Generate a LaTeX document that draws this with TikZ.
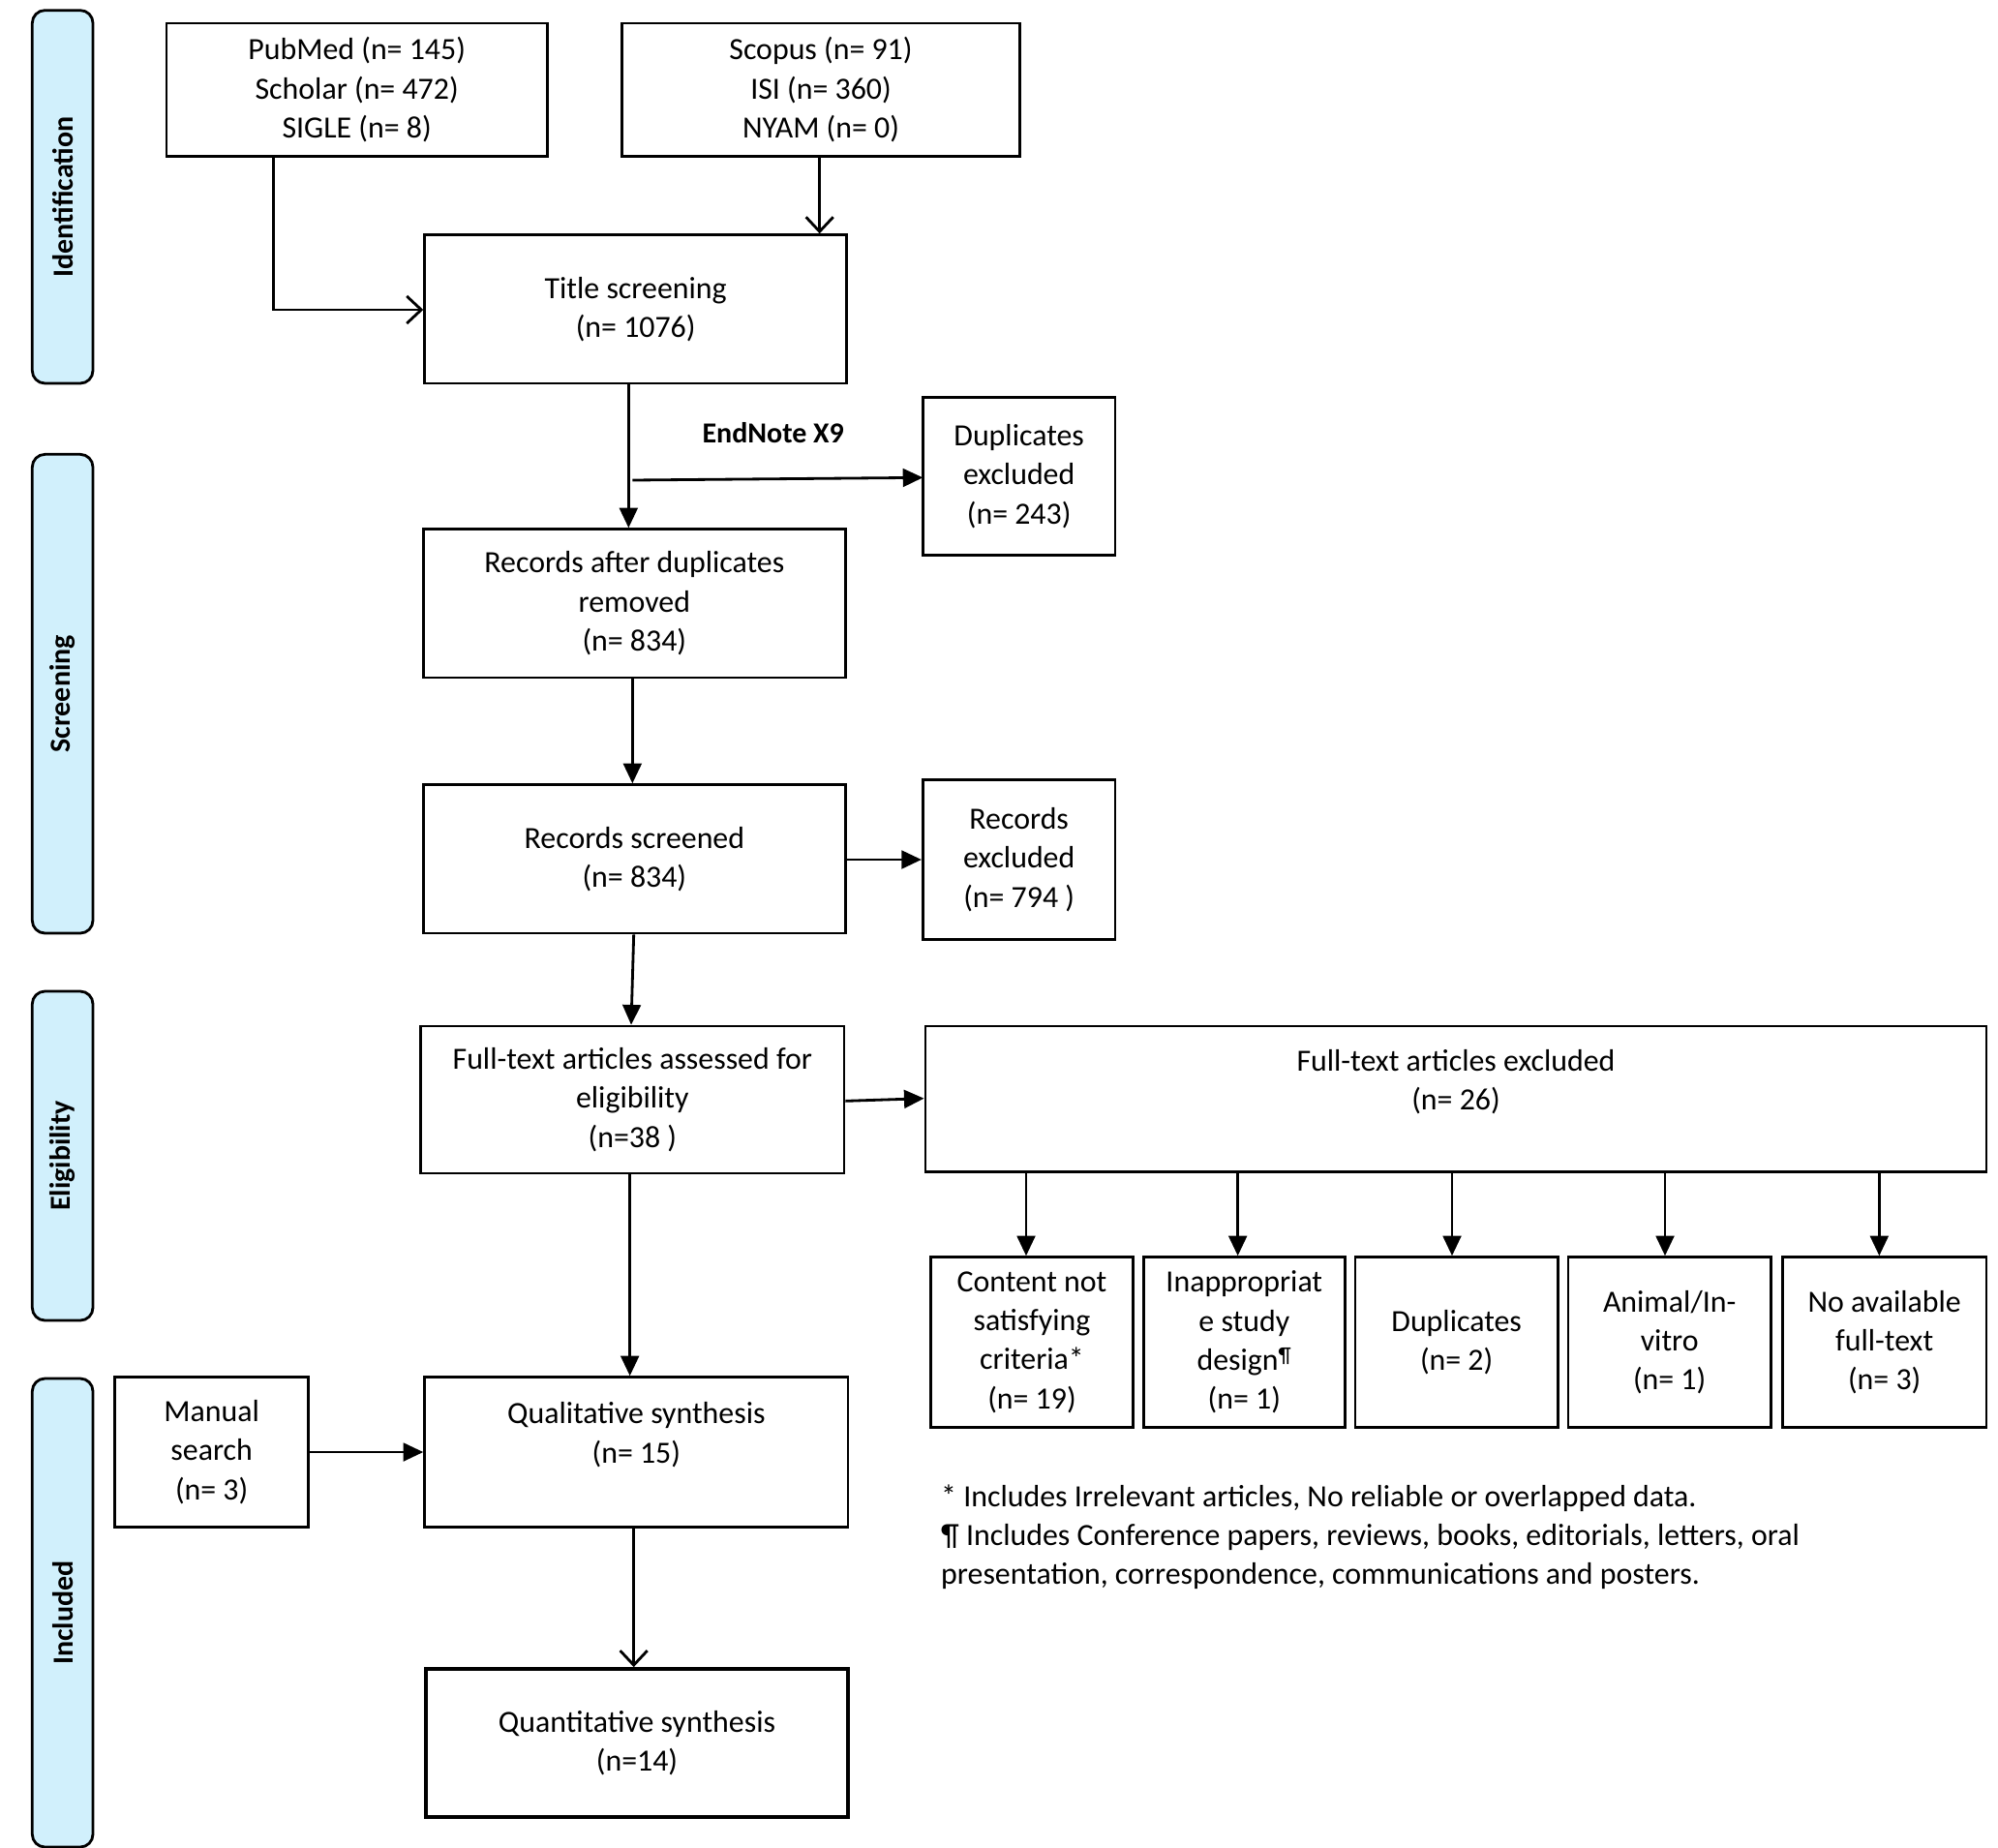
\documentclass[tikz,border=0pt]{standalone}
\usepackage{fontspec}
\setmainfont{Carlito}
\usetikzlibrary{arrows.meta,calc}
\begin{document}
\begin{tikzpicture}[x=0.05cm,y=-0.05cm,
  every node/.style={font=\fontsize{34}{43}\selectfont},
  box/.style={draw,line width=3pt,align=center,inner sep=0pt},
  lane/.style={draw,line width=3pt,rounded corners=14pt,fill=cyan!18,inner sep=0pt},
  lanetxt/.style={rotate=90,font=\fontsize{32}{38}\selectfont\bfseries},
  fa/.style={line width=3pt,-{Triangle[length=22pt,width=20pt]}},
  oa/.style={line width=3pt,-{Straight Barb[length=16pt,width=30pt,line width=3pt]}}]
\useasboundingbox (0,0) rectangle (1548,1431);
\newcommand{\mybx}[6]{\node[box,minimum width={(#4-#2)*0.05cm},minimum height={(#5-#3)*0.05cm}] (#1) at ({(#2+#4)/2},{(#3+#5)/2}) {#6};}
\newcommand{\mylane}[5]{\node[lane,minimum width={(#4-#2)*0.05cm},minimum height={(#5-#3)*0.05cm}] (#1) at ({(#2+#4)/2},{(#3+#5)/2}) {};}
\mylane{l1}{25}{8}{72}{297}
\mylane{l2}{25}{352}{72}{723}
\mylane{l3}{25}{768}{72}{1023}
\mylane{l4}{25}{1068}{72}{1431}
\node[lanetxt] at (l1) {Identification};
\node[lanetxt] at (l2) {Screening};
\node[lanetxt] at (l3) {Eligibility};
\node[lanetxt] at (l4) {Included};
\mybx{pub}{129}{18}{424}{121}{PubMed (n= 145)\\Scholar (n= 472)\\SIGLE (n= 8)}
\mybx{sco}{482}{18}{790}{121}{Scopus (n= 91)\\ISI (n= 360)\\NYAM (n= 0)}
\mybx{title}{329}{182}{656}{297}{Title screening\\(n= 1076)}
\mybx{dup}{715}{308}{864}{430}{Duplicates\\excluded\\(n= 243)}
\mybx{recdup}{328}{410}{655}{525}{Records after duplicates\\removed\\(n= 834)}
\mybx{scr}{328}{608}{655}{723}{Records screened\\(n= 834)}
\mybx{recex}{715}{604}{864}{728}{Records\\excluded\\(n= 794 )}
\mybx{full}{326}{795}{654}{909}{Full-text articles assessed for\\eligibility\\(n=38 )}
\mybx{fex}{717}{795}{1539}{908}{Full-text articles excluded\\(n= 26)\\[0pt]}
\mybx{c1}{721}{974}{878}{1106}{Content not\\satisfying\\criteria*\\(n= 19)}
\mybx{c2}{886}{974}{1042}{1106}{Inappropriat\\e study\\design\textsuperscript{¶}\\(n= 1)}
\mybx{c3}{1050}{974}{1207}{1106}{Duplicates\\(n= 2)}
\mybx{c4}{1215}{974}{1372}{1106}{Animal/In-\\vitro\\(n= 1)}
\mybx{c5}{1381}{974}{1539}{1106}{No available\\full-text\\(n= 3)}
\mybx{man}{89}{1067}{239}{1183}{Manual\\search\\(n= 3)}
\mybx{qual}{329}{1067}{657}{1183}{Qualitative synthesis\\(n= 15)\\[0pt]}
\node[box,line width=4pt,minimum width={327*0.05cm},minimum height={115*0.05cm}] (quant) at (493.5,1350.5) {Quantitative synthesis\\(n=14)};
\coordinate (pb) at (212,121);
\coordinate (pk) at (212,240);
\draw[oa] (pb) -- (pk) -- (pk -| title.west);
\draw[oa] (sco.south -| 635,0) -- (title.north -| 635,0);
\draw[fa] (title.south -| 487,0) -- (recdup.north -| 487,0);
\coordinate (en) at (490,372);
\draw[fa] (en) -- (715,370) coordinate (dupin);
\node[font=\fontsize{32}{38}\selectfont\bfseries] (endn) at (599,335) {EndNote X9};
\draw[fa] (recdup.south -| 490,0) -- (scr.north -| 490,0);
\draw[fa] (scr.east |- 0,666) -- (recex.west |- 0,666);
\draw[fa] (scr.south -| 491,0) -- (full.north -| 489,0);
\draw[fa] (full.east |- 0,853) -- (fex.west |- 0,851);
\foreach \x/\c in {795/c1,959/c2,1125/c3,1290/c4,1456/c5}
  \draw[fa] (fex.south -| \x,0) -- (\c.north -| \x,0);
\draw[fa] (full.south -| 488,0) -- (qual.north -| 488,0);
\draw[fa] (man.east |- 0,1125) -- (qual.west |- 0,1125);
\draw[oa] (qual.south -| 491,0) -- (quant.north -| 491,0);
\node[anchor=north west,align=left,inner sep=0pt] (fn) at (729,1150) {* Includes Irrelevant articles, No reliable or overlapped data.\\¶ Includes Conference papers, reviews, books, editorials, letters, oral\\presentation, correspondence, communications and posters.};
\end{tikzpicture}
\end{document}
